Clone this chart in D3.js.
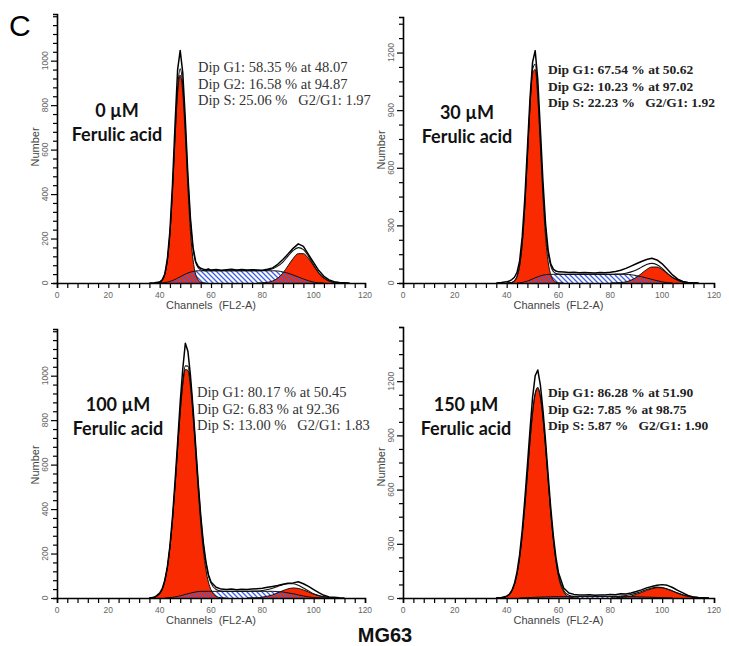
<!DOCTYPE html>
<html><head><meta charset="utf-8">
<script src="https://cdn.jsdelivr.net/npm/d3@7"></script>
<style>html,body{margin:0;padding:0;background:#fff;} svg{display:block;}</style>
</head><body><svg id="chart" width="729" height="646"></svg>
<script>
// ---------- DATA ----------
// channel grid (FL2-A)
const channels = [36,38,
  40,41,42,43,44,45,46,47,48,49,
  50,51,52,53,54,55,56,57,58,59,
  60,62,64,66,68,70,72,74,76,78,
  80,82,84,86,88,90,92,94,96,98,
  100,102,104,106,108,110,112,114,116,118];

// Panel 1 : 0 µM
const rawP1 = [0,1, 4,14,40,108,235,445,715,960,1046,945, 735,485,290,160,98,75,66,62,60,63, 58,61,57,60,62,58,61,58,60,59, 57,62,68,84,106,130,156,176,165,128, 92,56,30,14,6,2,1,0,0,0];
const g1P1  = [0,0, 4,12,38,100,218,410,650,855,935,855, 660,425,230,105,40,14,4,1,0,0, 0,0,0,0,0,0,0,0,0,0, 0,0,0,0,0,0,0,0,0,0, 0,0,0,0,0,0,0,0,0,0];
const sP1   = [0,0, 0,1,2,4,7,11,16,22,28,34, 40,45,49,52,54,55,55,55,55,55, 55,55,55,55,55,55,55,55,55,55, 55,55,55,54,50,44,36,27,18,10, 4,1,0,0,0,0,0,0,0,0];
const g2P1  = [0,0, 0,0,0,0,0,0,0,0,0,0, 0,0,0,0,0,0,0,0,0,0, 0,0,0,0,0,0,0,0,0,0, 1,3,9,22,44,77,110,132,132,110, 77,44,22,9,3,1,0,0,0,0];

// Panel 2 : 30 µM
const rawP2 = [0,2, 6,10,18,30,55,115,240,440,700,960, 1150,1210,1060,800,530,310,170,100,72,62, 58,57,55,56,53,55,54,52,55,53, 56,60,66,76,88,100,112,122,129,120, 100,72,42,20,8,3,1,0,0,0];
const g1P2  = [0,0, 0,1,3,11,34,90,204,394,649,911, 1091,1112,965,714,451,243,111,44,15,4, 1,0,0,0,0,0,0,0,0,0, 0,0,0,0,0,0,0,0,0,0, 0,0,0,0,0,0,0,0,0,0];
const sP2   = [0,0, 0,0,0,0,0,1,3,6,10,15, 21,27,32,37,41,43,45,45,45,45, 45,45,45,45,45,45,45,45,45,45, 45,45,45,45,43,39,33,26,19,12, 6,2,0,0,0,0,0,0,0,0];
const g2P2  = [0,0, 0,0,0,0,0,0,0,0,0,0, 0,0,0,0,0,0,0,0,0,0, 0,0,0,0,0,0,0,0,0,0, 0,1,2,6,15,29,49,70,83,83, 70,49,29,15,6,2,1,0,0,0];

// Panel 3 : 100 µM
const rawP3 = [0,3, 22,42,80,140,235,365,525,700,880,1030, 1146,1110,1000,855,690,520,370,250,165,105, 72,48,40,38,40,37,39,38,40,42, 44,48,52,56,62,66,68,73,64,52, 38,24,12,5,3,1,0,0,0,0];
const g1P3  = [0,4, 19,39,77,137,227,350,502,670,831,958, 1028,1024,948,817,653,486,336,216,129,71, 37,8,1,0,0,0,0,0,0,0, 0,0,0,0,0,0,0,0,0,0, 0,0,0,0,0,0,0,0,0,0];
const sP3   = [0,0, 0,0,0,1,2,3,5,7,10,13, 16,19,22,25,27,29,30,30,30,30, 30,30,30,30,30,30,30,30,30,30, 30,30,30,29,27,23,19,14,9,5, 2,1,0,0,0,0,0,0,0,0];
const g2P3  = [0,0, 0,0,0,0,0,0,0,0,0,0, 0,0,0,0,0,0,0,0,0,0, 0,0,0,0,0,0,0,0,1,1, 4,8,14,23,33,41,45,43,36,27, 17,10,5,2,1,0,0,0,0,0];

// Panel 4 : 150 µM
const rawP4 = [2,3, 10,20,42,80,145,240,375,545,735,930, 1110,1230,1262,1180,1040,870,680,500,345,225, 140,55,28,20,17,16,18,15,17,16, 19,18,24,22,28,36,45,56,64,70, 74,70,58,42,28,14,6,3,1,0];
const g1P4  = [0,1, 9,19,39,75,133,223,347,506,684,867, 1023,1128,1160,1112,995,832,648,471,320,203, 119,34,7,1,0,0,0,0,0,0, 0,0,0,0,0,0,0,0,0,0, 0,0,0,0,0,0,0,0,0,0];
const sP4   = [0,0, 0,0,0,0,0,0,1,1,2,2, 3,4,5,5,6,6,7,7,8,8, 8,8,8,8,8,8,8,8,8,8, 8,8,8,8,8,7,6,5,4,3, 2,1,0,0,0,0,0,0,0,0];
const g2P4  = [0,0, 0,0,0,0,0,0,0,0,0,0, 0,0,0,0,0,0,0,0,0,0, 0,0,0,0,0,0,0,0,0,0, 0,1,3,6,11,20,30,42,51,57, 56,49,39,27,17,10,5,2,1,0];

// axis ticks
const xTickLabels = [0,20,40,60,80,100,120];
const yTicksA = [0,200,400,600,800,1000];
const yTicksB = [0,300,600,900,1200];

// texts
const statsP1 = ["Dip G1: 58.35 % at 48.07","Dip G2: 16.58 % at 94.87","Dip S: 25.06 %   G2/G1: 1.97"];
const statsP2 = ["Dip G1: 67.54 % at 50.62","Dip G2: 10.23 % at 97.02","Dip S: 22.23 %   G2/G1: 1.92"];
const statsP3 = ["Dip G1: 80.17 % at 50.45","Dip G2: 6.83 % at 92.36","Dip S: 13.00 %   G2/G1: 1.83"];
const statsP4 = ["Dip G1: 86.28 % at 51.90","Dip G2: 7.85 % at 98.75","Dip S: 5.87 %   G2/G1: 1.90"];
const concLabels = ["0 µM","30 µM","100 µM","150 µM"];
const drugLabel = "Ferulic acid";
const xTitle = "Channels  (FL2-A)";
const yTitle = "Number";
const panelLetter = "C";
const cellLine = "MG63";

// ---------- LAYOUT ----------
const panels = [
  {raw:rawP1,g1:g1P1,s:sP1,g2:g2P1,yMax:1210,yTicks:yTicksA,yMinor:40,x0:57,x1:365,y0:283,y1:14,stats:statsP1,bold:false,statX:198,statY:72,conc:concLabels[0],cx:117,cy:117,numY:147},
  {raw:rawP2,g1:g1P2,s:sP2,g2:g2P2,yMax:1385,yTicks:yTicksB,yMinor:75,x0:403,x1:714,y0:283,y1:17,stats:statsP2,bold:true,statX:548,statY:74,conc:concLabels[1],cx:467,cy:119,numY:150},
  {raw:rawP3,g1:g1P3,s:sP3,g2:g2P3,yMax:1210,yTicks:yTicksA,yMinor:40,x0:57,x1:365,y0:598,y1:329,stats:statsP3,bold:false,statX:197,statY:397,conc:concLabels[2],cx:118,cy:411,numY:465},
  {raw:rawP4,g1:g1P4,s:sP4,g2:g2P4,yMax:1500,yTicks:yTicksB,yMinor:75,x0:403,x1:714,y0:598,y1:327,stats:statsP4,bold:true,statX:548,statY:397,conc:concLabels[3],cx:466,cy:411,numY:467}
];

const RED = "#fa2a00";
const svg = d3.select("#chart");
const defs = svg.append("defs");
const pat = defs.append("pattern").attr("id","hatch").attr("patternUnits","userSpaceOnUse")
  .attr("width",5).attr("height",5);
pat.append("path").attr("d","M0,0L5,5M-1,4L1,6M4,-1L6,1")
  .attr("stroke","#3e5fe0").attr("stroke-width",1.3);

function pts(vals){
  let first = vals.findIndex(v=>v>0);
  let last = vals.length-1-[...vals].reverse().findIndex(v=>v>0);
  first = Math.max(0,first-1); last = Math.min(vals.length-1,last+1);
  return d3.range(first,last+1).map(i=>({c:channels[i],v:vals[i]}));
}

panels.forEach(p=>{
  const x = d3.scaleLinear().domain([0,120]).range([p.x0,p.x1]);
  const y = d3.scaleLinear().domain([0,p.yMax]).range([p.y0,p.y1]);
  const g = svg.append("g");
  const area = d3.area().x(d=>x(d.c)).y0(y(0)).y1(d=>y(d.v)).curve(d3.curveMonotoneX);
  const line = d3.line().x(d=>x(d.c)).y(d=>y(d.v)).curve(d3.curveMonotoneX);
  const rawLine = d3.line().x(d=>x(d.c)).y(d=>y(d.v)).curve(d3.curveLinear);

  [p.g1,p.g2].forEach(arr=>{
    g.append("path").attr("d",area(pts(arr))).attr("fill",RED);
  });
  g.append("path").attr("d",area(pts(p.s))).attr("fill","url(#hatch)");
  [p.g1,p.g2,p.s].forEach(arr=>{
    g.append("path").attr("d",line(pts(arr))).attr("fill","none").attr("stroke","#111").attr("stroke-width",1);
  });
  const model = channels.map((c,i)=>p.g1[i]+p.s[i]+p.g2[i]);
  g.append("path").attr("d",line(pts(model))).attr("fill","none").attr("stroke","#111").attr("stroke-width",1.1);
  g.append("path").attr("d",rawLine(pts(p.raw))).attr("fill","none").attr("stroke","#000").attr("stroke-width",1.5).attr("stroke-linejoin","round");

  // x axis
  const xa = d3.axisBottom(x).tickValues(d3.range(0,121,4)).tickFormat("").tickSizeOuter(0).tickSize(5);
  const gx = g.append("g").attr("transform",`translate(0,${p.y0})`).call(xa);
  gx.select(".domain").attr("stroke","#000").attr("stroke-width",1.6);
  gx.selectAll(".tick line").attr("stroke","#000").attr("stroke-width",1.2);
  g.selectAll(null).data(xTickLabels).enter().append("text")
    .attr("x",d=>x(d)).attr("y",p.y0+14.5).attr("text-anchor","middle")
    .attr("font-family","Liberation Sans, Arial, sans-serif").attr("font-size",8.5).attr("fill","#666").text(d=>d);
  g.append("text").attr("x",(p.x0+p.x1)/2).attr("y",p.y0+26).attr("text-anchor","middle")
    .attr("font-family","Liberation Sans, Arial, sans-serif").attr("font-size",11).attr("fill","#444")
    .style("white-space","pre").text(xTitle);

  // y axis
  const ya = d3.axisLeft(y).tickValues(d3.range(0,p.yMax+1,p.yMinor)).tickFormat("").tickSizeOuter(0)
    .tickSize(4);
  const gy = g.append("g").attr("transform",`translate(${p.x0},0)`).call(ya);
  gy.select(".domain").attr("stroke","#000").attr("stroke-width",1.6);
  gy.selectAll(".tick line").attr("stroke","#000").attr("stroke-width",1.2)
    .attr("x2",d=>p.yTicks.includes(d)?-6:-4);
  g.selectAll(null).data(p.yTicks).enter().append("text")
    .attr("transform",d=>`translate(${p.x0-9},${y(d)}) rotate(-90)`)
    .attr("text-anchor","middle")
    .attr("font-family","Liberation Sans, Arial, sans-serif").attr("font-size",8.5).attr("fill","#666").text(d=>d);
  g.append("text").attr("transform",`translate(${p.x0-18},${p.numY}) rotate(-90)`).attr("text-anchor","middle")
    .attr("font-family","Liberation Sans, Arial, sans-serif").attr("font-size",11).attr("fill","#444").text(yTitle);

  // stats text
  p.stats.forEach((t,i)=>{
    g.append("text").attr("x",p.statX).attr("y",p.statY+i*16.5)
      .attr("font-family","Liberation Serif, Times New Roman, serif")
      .attr("font-size",p.bold?13.5:14.5).attr("font-weight",p.bold?"bold":"normal")
      .attr("fill",p.bold?"#222":"#333").style("white-space","pre").text(t);
  });
  // concentration labels
  g.append("text").attr("x",p.cx).attr("y",p.cy).attr("text-anchor","middle")
    .attr("font-family","Lato, Open Sans, sans-serif").attr("font-weight","bold").attr("font-size",18)
    .attr("fill","#111").text(p.conc);
  g.append("text").attr("x",p.cx).attr("y",p.cy+24).attr("text-anchor","middle")
    .attr("font-family","Lato, Open Sans, sans-serif").attr("font-weight","bold").attr("font-size",18)
    .attr("fill","#111").text(drugLabel);
});

svg.append("text").attr("x",9).attr("y",36).attr("font-family","Liberation Sans, Arial, sans-serif")
  .attr("font-size",30).attr("fill","#000").text(panelLetter);
svg.append("text").attr("x",385).attr("y",642).attr("text-anchor","middle")
  .attr("font-family","Liberation Sans, Arial, sans-serif").attr("font-weight","bold")
  .attr("font-size",20).attr("fill","#111").text(cellLine);
</script>
</body></html>
